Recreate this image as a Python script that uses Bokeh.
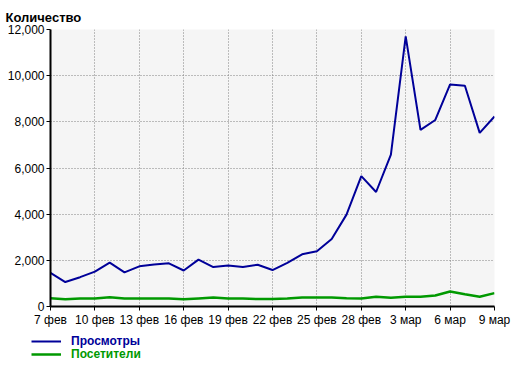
import numpy as np
from bokeh.plotting import figure
from bokeh.layouts import column, row
from bokeh.models import (Range1d, FixedTicker, NumeralTickFormatter, Legend, LegendItem, Title)
from bokeh.embed import file_html
from bokeh.resources import INLINE

dates = ["7 фев", "8 фев", "9 фев", "10 фев", "11 фев", "12 фев", "13 фев", "14 фев",
         "15 фев", "16 фев", "17 фев", "18 фев", "19 фев", "20 фев", "21 фев", "22 фев",
         "23 фев", "24 фев", "25 фев", "26 фев", "27 фев", "28 фев", "1 мар", "2 мар",
         "3 мар", "4 мар", "5 мар", "6 мар", "7 мар", "8 мар", "9 мар"]
views = [1460, 1060, 1270, 1510, 1900, 1480, 1740, 1820, 1870, 1560, 2030,
         1710, 1780, 1710, 1810, 1580, 1890, 2260, 2390, 2920, 3980, 5650,
         4960, 6580, 11700, 7650, 8080, 9620, 9560, 7520, 8230]
visitors = [360, 310, 350, 350, 400, 350, 350, 350, 350, 310, 350,
            390, 350, 350, 320, 320, 350, 390, 390, 390, 360, 350,
            420, 380, 420, 420, 480, 650, 530, 420, 580]
y_ticks = [0, 2000, 4000, 6000, 8000, 10000, 12000]
series_names = ["Просмотры", "Посетители"]

BLUE = "#000099"
GREEN = "#009900"
FONT = "Liberation Sans"

x = np.arange(len(dates))

p = figure(width=520, height=330, output_backend="svg", toolbar_location=None,
           x_range=Range1d(0, len(dates) - 1), y_range=Range1d(0, 12000),
           min_border_left=50, min_border_right=26, min_border_top=29, min_border_bottom=24)
p.outline_line_color = None
p.background_fill_color = "#f5f5f5"
p.border_fill_color = "white"

p.add_layout(Title(text="Количество", align="left", offset=-45, text_font=FONT,
                   text_font_size="13px", text_font_style="bold", text_color="black",
                   standoff=10), "above")

p.line(x, views, color=BLUE, line_width=2)
p.line(x, visitors, color=GREEN, line_width=2.5)

tick_idx = list(range(0, len(dates), 3))
p.xaxis.ticker = FixedTicker(ticks=tick_idx)
p.xaxis.major_label_overrides = {i: dates[i] for i in tick_idx}
p.yaxis.ticker = FixedTicker(ticks=y_ticks)
p.yaxis.formatter = NumeralTickFormatter(format="0,0")

for ax in (p.xaxis[0], p.yaxis[0]):
    ax.axis_line_width = 2
    ax.axis_line_color = "black"
    ax.major_tick_line_color = "black"
    ax.major_tick_line_width = 1
    ax.major_tick_out = 4
    ax.major_tick_in = 0
    ax.minor_tick_line_color = None
    ax.major_label_text_font = FONT
    ax.major_label_text_font_size = "12px"
    ax.major_label_text_color = "black"
    ax.major_label_standoff = 2

for g in (p.xgrid[0], p.ygrid[0]):
    g.grid_line_color = "#808080"
    g.grid_line_dash = "1 2"
    g.grid_line_width = 1

# legend strip below the chart (its own series lines fall outside its view)
lp = figure(width=520, height=36, output_backend="svg", toolbar_location=None,
            x_axis_type=None, y_axis_type=None, min_border=0,
            min_border_left=0, min_border_right=0, min_border_top=0, min_border_bottom=0,
            x_range=Range1d(-1000, -999), y_range=Range1d(-1000, -999))
lp.outline_line_color = None
lp.xgrid.visible = False
lp.ygrid.visible = False
lr1 = lp.line(x, views, color=BLUE, line_width=2)
lr2 = lp.line(x, visitors, color=GREEN, line_width=2.5)

for r, lab, col, yy in ((lr1, series_names[0], BLUE, 18), (lr2, series_names[1], GREEN, 5)):
    lg = Legend(items=[LegendItem(label=lab, renderers=[r])], location=(31, yy),
                orientation="vertical", glyph_width=30, glyph_height=14, label_height=14,
                label_standoff=10, padding=0, margin=0, spacing=0,
                border_line_color=None, background_fill_alpha=0,
                label_text_font=FONT, label_text_font_size="12px",
                label_text_font_style="bold", label_text_color=col)
    lp.add_layout(lg, "center")

open("out.html", "w").write(file_html(column(p, row(lp, spacing=0), spacing=0), INLINE))
